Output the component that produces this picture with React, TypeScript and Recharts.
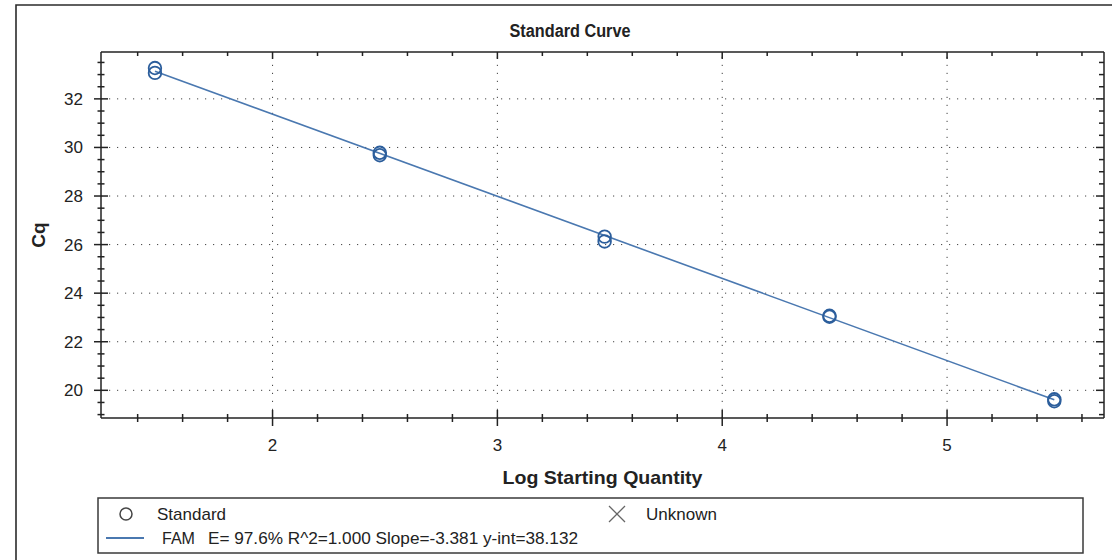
import React from "react";
import {
  ReferenceLine,
  Scatter,
  ScatterChart,
  XAxis,
  YAxis,
} from "recharts";

// standards: log starting quantity vs Cq (two replicates per dilution)
const logQuantity = [1.477, 1.477, 2.477, 2.477, 3.477, 3.477, 4.477, 4.477, 5.477, 5.477];
const cqValues = [33.27, 33.07, 29.78, 29.68, 26.33, 26.13, 23.07, 23.03, 19.63, 19.55];

// regression line end points (slope -3.381, y-int 38.132)
const fitX = [1.477, 5.477];
const fitCq = [33.14, 19.61];

const xLabelTicks = [2, 3, 4, 5];
const yLabelTicks = [20, 22, 24, 26, 28, 30, 32];
const xMinorTicks = [
  1.4, 1.6, 1.8, 2, 2.2, 2.4, 2.6, 2.8, 3, 3.2, 3.4, 3.6, 3.8, 4, 4.2, 4.4, 4.6, 4.8,
  5, 5.2, 5.4, 5.6,
];
const yMinorTicks = [
  19, 19.5, 20, 20.5, 21, 21.5, 22, 22.5, 23, 23.5, 24, 24.5, 25, 25.5, 26, 26.5, 27,
  27.5, 28, 28.5, 29, 29.5, 30, 30.5, 31, 31.5, 32, 32.5, 33, 33.5,
];

const xDomain: [number, number] = [1.237, 5.698];
const yDomain: [number, number] = [18.86, 33.93];

const standards = logQuantity.map((x, i) => ({ x, y: cqValues[i] }));
const fit = fitX.map((x, i) => ({ x, y: fitCq[i] }));

const INK = "#222";
const LINE = "#4a78b0";
const DOT = "#2c5e9c";
const FONT = "'Liberation Sans', Arial, sans-serif";

const BottomTick = ({ x, y, payload }: any) => {
  const major = xLabelTicks.includes(payload.value);
  const h = major ? 8 : 4;
  return (
    <g>
      <line x1={x} x2={x} y1={y - h} y2={y + h} stroke={INK} strokeWidth={1.5} />
      {major && (
        <text x={x} y={y + 33} textAnchor="middle" fontSize={17} fill={INK} fontFamily={FONT}>
          {payload.value}
        </text>
      )}
    </g>
  );
};

const TopTick = ({ x, y, payload }: any) => {
  const major = xLabelTicks.includes(payload.value);
  return <line x1={x} x2={x} y1={y} y2={y + (major ? 7 : 4)} stroke={INK} strokeWidth={1.5} />;
};

const LeftTick = ({ x, y, payload }: any) => {
  const major = yLabelTicks.includes(payload.value);
  const w = major ? 7 : 3.5;
  return (
    <g>
      <line x1={x - w} x2={x + w} y1={y} y2={y} stroke={INK} strokeWidth={1.5} />
      {major && (
        <text x={x - 18} y={y + 6} textAnchor="end" fontSize={17} fill={INK} fontFamily={FONT}>
          {payload.value}
        </text>
      )}
    </g>
  );
};

const RightTick = ({ x, y, payload }: any) => {
  const major = yLabelTicks.includes(payload.value);
  return <line x1={x - (major ? 8 : 5)} x2={x} y1={y} y2={y} stroke={INK} strokeWidth={1.5} />;
};

const Ring = ({ cx, cy }: any) => (
  <circle cx={cx} cy={cy} r={6.3} fill="none" stroke={DOT} strokeWidth={1.8} />
);

export default function App() {
  return (
    <div style={{ position: "absolute", left: 0, top: 0, width: 1112, height: 560, background: "#fff" }}>
      <ScatterChart
        width={1112}
        height={560}
        margin={{ top: 42, right: 0, bottom: 112, left: 61 }}
        style={{ fontFamily: FONT }}
      >
        <XAxis
          type="number"
          dataKey="x"
          domain={xDomain}
          allowDataOverflow
          ticks={xMinorTicks}
          interval={0}
          height={30}
          tickSize={0}
          tickMargin={0}
          tick={<BottomTick />}
          axisLine={{ stroke: INK, strokeWidth: 1.5 }}
          label={({ viewBox }: any) => (
            <text
              x={viewBox.x + viewBox.width / 2}
              y={viewBox.y + 66}
              textAnchor="middle"
              fontSize={19}
              fontWeight="bold"
              fill={INK}
              fontFamily={FONT}
              textLength={200}
              lengthAdjust="spacingAndGlyphs"
            >
              Log Starting Quantity
            </text>
          )}
        />
        <XAxis
          xAxisId="top"
          orientation="top"
          type="number"
          dataKey="x"
          domain={xDomain}
          allowDataOverflow
          ticks={xMinorTicks}
          interval={0}
          height={10}
          tickSize={0}
          tickMargin={0}
          tick={<TopTick />}
          axisLine={{ stroke: INK, strokeWidth: 1.5 }}
        />
        <YAxis
          type="number"
          dataKey="y"
          domain={yDomain}
          allowDataOverflow
          ticks={yMinorTicks}
          interval={0}
          width={40}
          tickSize={0}
          tickMargin={0}
          tick={<LeftTick />}
          axisLine={{ stroke: INK, strokeWidth: 1.5 }}
          label={({ viewBox }: any) => {
            const cx = viewBox.x - 16;
            const cy = viewBox.y + viewBox.height / 2;
            return (
              <text
                x={cx}
                y={cy}
                transform={`rotate(-90 ${cx} ${cy})`}
                textAnchor="middle"
                fontSize={19}
                fontWeight="bold"
                fill={INK}
                fontFamily={FONT}
              >
                Cq
              </text>
            );
          }}
        />
        <YAxis
          yAxisId="right"
          orientation="right"
          type="number"
          dataKey="y"
          domain={yDomain}
          allowDataOverflow
          ticks={yMinorTicks}
          interval={0}
          width={8}
          tickSize={0}
          tickMargin={0}
          tick={<RightTick />}
          axisLine={{ stroke: INK, strokeWidth: 1.5 }}
        />
        {xLabelTicks.map((v) => (
          <ReferenceLine key={`gx${v}`} x={v} stroke="#444" strokeDasharray="1.2 6.8" />
        ))}
        {yLabelTicks.map((v) => (
          <ReferenceLine key={`gy${v}`} y={v} stroke="#444" strokeDasharray="1.2 6.8" />
        ))}
        <Scatter
          name="FAM"
          data={fit}
          line={{ stroke: LINE, strokeWidth: 1.6 }}
          lineType="joint"
          shape={() => <g />}
          isAnimationActive={false}
        />
        <Scatter name="Standard" data={standards} shape={<Ring />} isAnimationActive={false} />
      </ScatterChart>

      <svg
        width={1112}
        height={560}
        style={{ position: "absolute", left: 0, top: 0, pointerEvents: "none", fontFamily: FONT }}
      >
        <polyline points="16,560 16,5 1112,5" fill="none" stroke="#2b2b2b" strokeWidth={1.6} />
        <text
          x={570}
          y={37}
          textAnchor="middle"
          fontSize={18}
          fontWeight="bold"
          fill={INK}
          textLength={121}
          lengthAdjust="spacingAndGlyphs"
        >
          Standard Curve
        </text>

        <rect x={98} y={498} width={985} height={55} fill="#fff" stroke="#3a3a3a" strokeWidth={1.5} />
        <circle cx={126} cy={514} r={6} fill="none" stroke="#444" strokeWidth={1.5} />
        <text x={157} y={520} fontSize={17} fill={INK}>
          Standard
        </text>
        <line x1={609} y1={506} x2={625} y2={522} stroke="#666" strokeWidth={1.3} />
        <line x1={625} y1={506} x2={609} y2={522} stroke="#666" strokeWidth={1.3} />
        <text x={646} y={520} fontSize={17} fill={INK}>
          Unknown
        </text>
        <line x1={106} y1={538} x2={144} y2={538} stroke={LINE} strokeWidth={2} />
        <text x={162} y={544} fontSize={17} fill={INK} textLength={33} lengthAdjust="spacingAndGlyphs">
          FAM
        </text>
        <text x={208} y={544} fontSize={17} fill={INK} textLength={370} lengthAdjust="spacingAndGlyphs">
          E= 97.6% R^2=1.000 Slope=-3.381 y-int=38.132
        </text>
      </svg>
    </div>
  );
}
